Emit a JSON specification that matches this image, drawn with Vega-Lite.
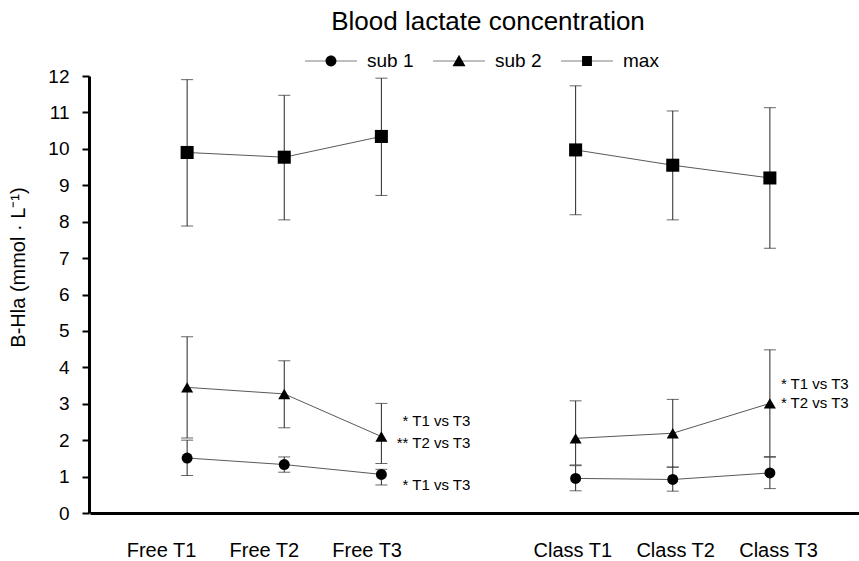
{
  "$schema": "https://vega.github.io/schema/vega-lite/v6.json",
  "width": 770,
  "height": 437,
  "autosize": "none",
  "padding": {"left": 89, "top": 76, "right": 0, "bottom": 48},
  "background": "white",
  "config": {"font": "Liberation Sans", "view": {"stroke": null},
    "axisY": {"labelOverlap": false, "domainWidth": 3, "domainColor": "black", "tickColor": "black", "tickWidth": 2, "tickSize": 7, "labelFontSize": 19, "labelPadding": 13, "labelColor": "black", "grid": false, "titleFontSize": 20, "titleFontWeight": "normal", "titleColor": "black"}},
  "title": {"text": "Blood lactate concentration", "fontSize": 26, "fontWeight": "normal", "font": "Liberation Sans", "color": "black", "anchor": "middle", "dx": 14, "offset": 0, "frame": "group"},
  "datasets": {
    "stats": [
      {"cond": "Free T1", "grp": "Free", "series": "sub 1", "mean": 1.51, "lo": 1.03, "hi": 2.0},
      {"cond": "Free T2", "grp": "Free", "series": "sub 1", "mean": 1.33, "lo": 1.12, "hi": 1.54},
      {"cond": "Free T3", "grp": "Free", "series": "sub 1", "mean": 1.06, "lo": 0.77, "hi": 1.2},
      {"cond": "Class T1", "grp": "Class", "series": "sub 1", "mean": 0.95, "lo": 0.61, "hi": 1.3},
      {"cond": "Class T2", "grp": "Class", "series": "sub 1", "mean": 0.92, "lo": 0.6, "hi": 1.26},
      {"cond": "Class T3", "grp": "Class", "series": "sub 1", "mean": 1.1, "lo": 0.67, "hi": 1.53},
      {"cond": "Free T1", "grp": "Free", "series": "sub 2", "mean": 3.45, "lo": 2.06, "hi": 4.84},
      {"cond": "Free T2", "grp": "Free", "series": "sub 2", "mean": 3.27, "lo": 2.34, "hi": 4.18},
      {"cond": "Free T3", "grp": "Free", "series": "sub 2", "mean": 2.1, "lo": 1.36, "hi": 3.01},
      {"cond": "Class T1", "grp": "Class", "series": "sub 2", "mean": 2.05, "lo": 1.32, "hi": 3.08},
      {"cond": "Class T2", "grp": "Class", "series": "sub 2", "mean": 2.19, "lo": 1.26, "hi": 3.12},
      {"cond": "Class T3", "grp": "Class", "series": "sub 2", "mean": 3.01, "lo": 1.55, "hi": 4.48},
      {"cond": "Free T1", "grp": "Free", "series": "max", "mean": 9.9, "lo": 7.88, "hi": 11.9},
      {"cond": "Free T2", "grp": "Free", "series": "max", "mean": 9.77, "lo": 8.05, "hi": 11.47},
      {"cond": "Free T3", "grp": "Free", "series": "max", "mean": 10.34, "lo": 8.72, "hi": 11.94},
      {"cond": "Class T1", "grp": "Class", "series": "max", "mean": 9.97, "lo": 8.19, "hi": 11.73},
      {"cond": "Class T2", "grp": "Class", "series": "max", "mean": 9.55, "lo": 8.05, "hi": 11.04},
      {"cond": "Class T3", "grp": "Class", "series": "max", "mean": 9.2, "lo": 7.27, "hi": 11.13}
    ],
    "notes": [
      {"cond": "Free T3", "grp": "Free", "v": 2.53, "label": "* T1 vs T3"},
      {"cond": "Free T3", "grp": "Free", "v": 1.92, "label": "** T2 vs T3"},
      {"cond": "Free T3", "grp": "Free", "v": 0.77, "label": "* T1 vs T3"},
      {"cond": "Class T3", "grp": "Class", "v": 3.54, "label": "* T1 vs T3"},
      {"cond": "Class T3", "grp": "Class", "v": 3.03, "label": "* T2 vs T3"}
    ]
  },
  "layer": [
    {
      "layer": [
        {
          "data": {"name": "stats"},
          "mark": {"type": "rule", "color": "#262626", "strokeWidth": 1},
          "encoding": {
            "x": {"field": "cond", "type": "nominal",
              "scale": {"type": "point", "domain": ["Free T1", "Free T2", "Free T3", " ", "Class T1", "Class T2", "Class T3"], "range": [1, 778], "padding": 1},
              "axis": {"orient": "bottom", "title": null, "ticks": false, "labels": false, "domainWidth": 3, "domainColor": "black", "grid": false}},
            "y": {"field": "lo", "type": "quantitative",
              "scale": {"domain": [0, 12], "nice": false},
              "axis": {"title": "B-Hla (mmol · L⁻¹)", "values": [0, 1, 2, 3, 4, 5, 6, 7, 8, 9, 10, 11, 12], "titleX": -71, "titleY": 191, "titleAngle": -90, "titleAlign": "center", "titleBaseline": "middle"}},
            "y2": {"field": "hi"}
          }
        },
        {
          "data": {"name": "stats"},
          "mark": {"type": "tick", "color": "#262626", "thickness": 1, "size": 12},
          "encoding": {
            "x": {"field": "cond", "type": "nominal"},
            "y": {"field": "lo", "type": "quantitative", "axis": {"values": [0, 1, 2, 3, 4, 5, 6, 7, 8, 9, 10, 11, 12]}}
          }
        },
        {
          "data": {"name": "stats"},
          "mark": {"type": "tick", "color": "#262626", "thickness": 1, "size": 12},
          "encoding": {
            "x": {"field": "cond", "type": "nominal"},
            "y": {"field": "hi", "type": "quantitative", "axis": {"values": [0, 1, 2, 3, 4, 5, 6, 7, 8, 9, 10, 11, 12]}}
          }
        },
        {
          "data": {"name": "stats"},
          "mark": {"type": "line", "color": "#595959", "strokeWidth": 1},
          "encoding": {
            "x": {"field": "cond", "type": "nominal"},
            "y": {"field": "mean", "type": "quantitative", "axis": {"values": [0, 1, 2, 3, 4, 5, 6, 7, 8, 9, 10, 11, 12]}},
            "detail": [{"field": "series"}, {"field": "grp"}]
          }
        },
        {
          "data": {"name": "stats"},
          "mark": {"type": "point", "filled": true, "color": "black", "opacity": 1},
          "encoding": {
            "x": {"field": "cond", "type": "nominal"},
            "y": {"field": "mean", "type": "quantitative", "axis": {"values": [0, 1, 2, 3, 4, 5, 6, 7, 8, 9, 10, 11, 12]}},
            "shape": {"field": "series", "type": "nominal",
              "scale": {"domain": ["sub 1", "sub 2", "max"], "range": ["circle", "triangle-up", "square"]},
              "legend": null},
            "size": {"field": "series", "type": "nominal",
              "scale": {"domain": ["sub 1", "sub 2", "max"], "range": [120, 170, 90]},
              "legend": null}
          }
        },
        {
          "data": {"name": "stats"},
          "transform": [{"filter": "false"}],
          "mark": {"type": "point", "filled": true, "color": "black", "opacity": 1, "size": 2704},
          "encoding": {
            "x": {"field": "cond", "type": "nominal"},
            "y": {"field": "mean", "type": "quantitative", "axis": {"values": [0, 1, 2, 3, 4, 5, 6, 7, 8, 9, 10, 11, 12]}},
            "shape": {"field": "series", "type": "nominal",
              "scale": {"domain": ["sub 1", "sub 2", "max"], "range": [
                "M-1,-0.012H1V0.012H-1ZM0.21,0A0.21,0.21,0,1,1,-0.21,0A0.21,0.21,0,1,1,0.21,0Z",
                "M-1,-0.012H1V0.012H-1ZM0,-0.24L0.25,0.2L-0.25,0.2Z",
                "M-1,-0.012H1V0.012H-1ZM-0.19,-0.19H0.19V0.19H-0.19Z"]},
              "legend": {"orient": "none", "legendX": 216, "legendY": -41, "direction": "horizontal", "title": null, "labelFontSize": 19, "labelFont": "Liberation Sans", "labelColor": "black", "labelOffset": 10, "columnPadding": 19, "symbolSize": 2704, "symbolFillColor": "black", "symbolStrokeWidth": 0, "symbolOpacity": 1, "padding": 0}}
          }
        },
        {
          "data": {"name": "notes"},
          "transform": [{"filter": "datum.grp === 'Free'"}],
          "mark": {"type": "text", "align": "right", "baseline": "middle", "dx": 89, "fontSize": 15, "color": "black"},
          "encoding": {
            "x": {"field": "cond", "type": "nominal"},
            "y": {"field": "v", "type": "quantitative", "axis": {"values": [0, 1, 2, 3, 4, 5, 6, 7, 8, 9, 10, 11, 12]}},
            "text": {"field": "label"}
          }
        },
        {
          "data": {"name": "notes"},
          "transform": [{"filter": "datum.grp === 'Class'"}],
          "mark": {"type": "text", "align": "left", "baseline": "middle", "dx": 11, "fontSize": 15, "color": "black"},
          "encoding": {
            "x": {"field": "cond", "type": "nominal"},
            "y": {"field": "v", "type": "quantitative", "axis": {"values": [0, 1, 2, 3, 4, 5, 6, 7, 8, 9, 10, 11, 12]}},
            "text": {"field": "label"}
          }
        }
      ],
      "resolve": {"scale": {"shape": "independent", "size": "independent"}}
    },
    {
      "data": {"name": "stats"},
      "transform": [{"filter": "false"}],
      "mark": {"type": "text"},
      "encoding": {
        "x": {"field": "cond", "type": "nominal",
          "scale": {"type": "point", "domain": ["Free T1", "Free T2", "Free T3", " ", "Class T1", "Class T2", "Class T3"], "range": [72, 689], "padding": 0},
          "axis": {"orient": "bottom", "title": null, "domain": false, "ticks": false, "labelFontSize": 20, "labelPadding": 27, "labelColor": "black", "labelAngle": 0, "grid": false}},
        "text": {"field": "cond"}
      }
    }
  ],
  "resolve": {"scale": {"x": "independent"}, "axis": {"x": "independent"}}
}
